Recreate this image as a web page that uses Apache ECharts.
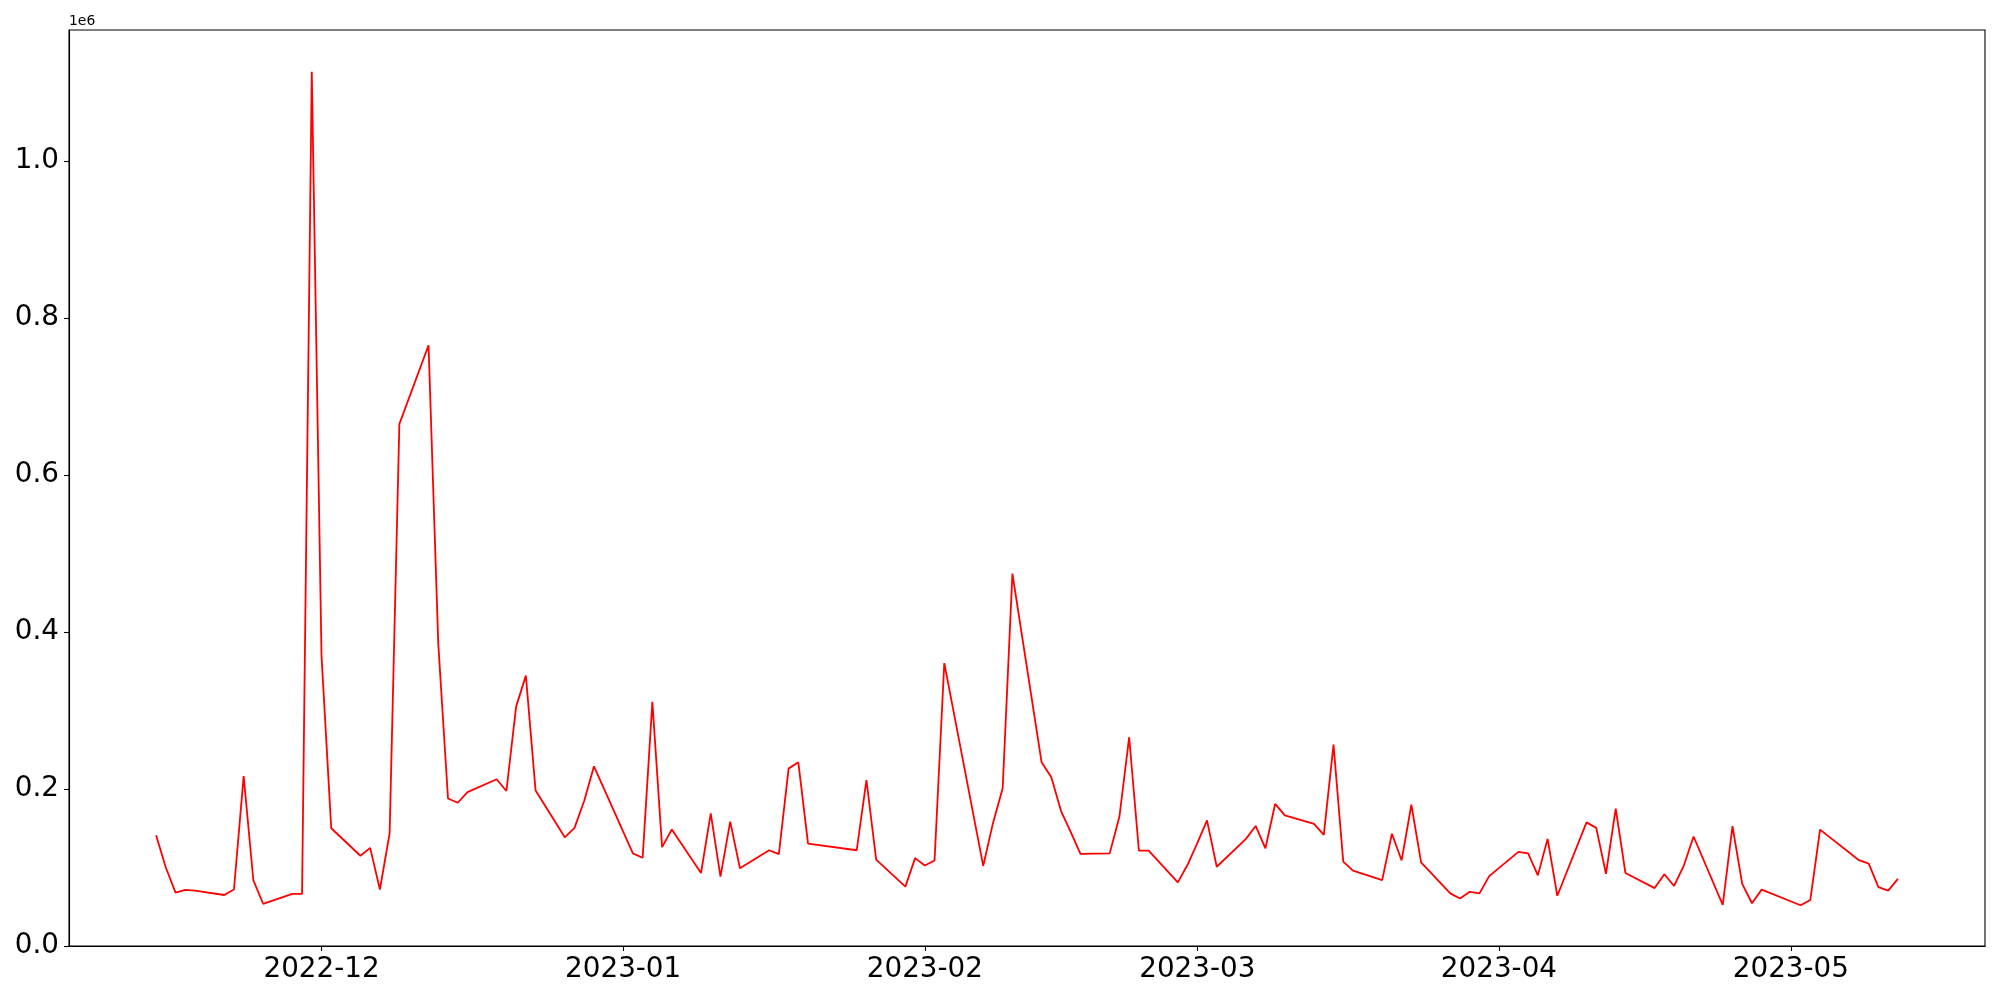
<!DOCTYPE html>
<html>
<head>
<meta charset="utf-8">
<script src="https://cdn.jsdelivr.net/npm/echarts@6/dist/echarts.min.js"></script>
<style>
  html, body { margin: 0; padding: 0; background: #fff; }
  #chart { width: 2000px; height: 1000px; }
</style>
</head>
<body>
<div id="chart"></div>
<script>
  // daily values
  const dates = [
    '2022-11-14', '2022-11-15', '2022-11-16', '2022-11-17', '2022-11-18',
    '2022-11-21', '2022-11-22', '2022-11-23', '2022-11-24', '2022-11-25',
    '2022-11-28', '2022-11-29', '2022-11-30', '2022-12-01', '2022-12-02',
    '2022-12-05', '2022-12-06', '2022-12-07', '2022-12-08', '2022-12-09',
    '2022-12-12', '2022-12-13', '2022-12-14', '2022-12-15', '2022-12-16',
    '2022-12-19', '2022-12-20', '2022-12-21', '2022-12-22', '2022-12-23',
    '2022-12-26', '2022-12-27', '2022-12-28', '2022-12-29',
    '2023-01-02', '2023-01-03', '2023-01-04', '2023-01-05', '2023-01-06',
    '2023-01-09', '2023-01-10', '2023-01-11', '2023-01-12', '2023-01-13',
    '2023-01-16', '2023-01-17', '2023-01-18', '2023-01-19', '2023-01-20',
    '2023-01-25', '2023-01-26', '2023-01-27',
    '2023-01-30', '2023-01-31', '2023-02-01', '2023-02-02', '2023-02-03',
    '2023-02-07', '2023-02-08', '2023-02-09', '2023-02-10',
    '2023-02-13', '2023-02-14', '2023-02-15', '2023-02-16', '2023-02-17',
    '2023-02-20', '2023-02-21', '2023-02-22', '2023-02-23', '2023-02-24',
    '2023-02-27', '2023-02-28', '2023-03-01', '2023-03-02', '2023-03-03',
    '2023-03-06', '2023-03-07', '2023-03-08', '2023-03-09', '2023-03-10',
    '2023-03-13', '2023-03-14', '2023-03-15', '2023-03-16', '2023-03-17',
    '2023-03-20', '2023-03-21', '2023-03-22', '2023-03-23', '2023-03-24',
    '2023-03-27', '2023-03-28', '2023-03-29', '2023-03-30', '2023-03-31',
    '2023-04-03', '2023-04-04', '2023-04-05', '2023-04-06', '2023-04-07',
    '2023-04-10', '2023-04-11', '2023-04-12', '2023-04-13', '2023-04-14',
    '2023-04-17', '2023-04-18', '2023-04-19', '2023-04-20', '2023-04-21',
    '2023-04-24', '2023-04-25', '2023-04-26', '2023-04-27', '2023-04-28',
    '2023-05-02', '2023-05-03', '2023-05-04',
    '2023-05-08', '2023-05-09', '2023-05-10', '2023-05-11', '2023-05-12'
  ];

  const values = [
    141000, 100000, 68000, 71500, 70500,
    65000, 72000, 216500, 83500, 53800,
    66500, 66500, 1114000, 370000, 150000,
    115000, 125000, 72000, 143500, 665000,
    765500, 385000, 188000, 182500, 196000,
    212500, 197500, 305000, 344500, 198000,
    138500, 150500, 185000, 229000,
    118000, 112500, 311000, 126000, 148500,
    93000, 169000, 88500, 158500, 99000,
    122000, 117000, 226000, 234000, 130500,
    122000, 211500, 110000,
    75700, 112000, 102500, 109000, 360500,
    102000, 156500, 201000, 474500,
    234000, 215000, 172000, 145000, 117500,
    118000, 165000, 266000, 121500, 121500,
    81000, 103500, 131000, 160000, 101000,
    136500, 153000, 124500, 181000, 166500,
    155500, 141500, 256500, 107500, 96000,
    84000, 143000, 109000, 180000, 106500,
    67000, 60500, 69000, 67000, 89000,
    120000, 118000, 90000, 136500, 64000,
    157500, 150500, 92000, 175000, 93000,
    73800, 91400, 76500, 102500, 139500,
    52300, 152600, 79100, 54500, 71800,
    51900, 58700, 148300,
    109300, 105000, 74900, 70600, 85500
  ];

  const monthTicks = ['2022-12-01', '2023-01-01', '2023-02-01', '2023-03-01', '2023-04-01', '2023-05-01'];
  const yTicks = [0, 200000, 400000, 600000, 800000, 1000000];

  const toTime = (s) => {
    const [y, m, d] = s.split('-').map(Number);
    return new Date(y, m - 1, d).getTime();
  };

  const times = dates.map(toTime);
  const seriesData = times.map((t, i) => [t, values[i]]);
  const xTicks = monthTicks.map(toTime);

  // matplotlib style 5% margins
  const tMin = times[0];
  const tMax = times[times.length - 1];
  const tPad = (tMax - tMin) * 0.05;
  const yMax = Math.max(...values);
  const yMin = Math.min(...values);
  const yTop = yMax + (yMax - yMin) * 0.05;

  const font = 'DejaVu Sans';

  const chart = echarts.init(document.getElementById('chart'), null, {
    width: 2000,
    height: 1000,
    renderer: 'canvas',
  });

  chart.setOption({
    animation: false,
    backgroundColor: '#ffffff',
    grid: {
      left: 69,
      right: 15,
      top: 30,
      bottom: 54,
      show: true,
      borderColor: '#000000',
      borderWidth: 1.1,
      backgroundColor: 'transparent',
    },
    xAxis: {
      type: 'value',
      min: tMin - tPad,
      max: tMax + tPad,
      scale: true,
      splitLine: { show: false },
      axisLine: { lineStyle: { color: '#000000', width: 1.1 } },
      axisTick: {
        show: true,
        length: 5,
        lineStyle: { color: '#000000', width: 1.1 },
        customValues: xTicks,
      },
      axisLabel: {
        margin: 10,
        color: '#000000',
        fontFamily: font,
        fontSize: 27.8,
        customValues: xTicks,
        formatter: (v) => {
          const d = new Date(v);
          const m = d.getMonth() + 1;
          return d.getFullYear() + '-' + (m < 10 ? '0' + m : m);
        },
      },
    },
    yAxis: {
      type: 'value',
      min: 0,
      max: yTop,
      interval: 200000,
      name: '1e6',
      nameLocation: 'end',
      nameGap: 2,
      nameTextStyle: {
        color: '#000000',
        fontFamily: font,
        fontSize: 13.9,
        align: 'left',
        verticalAlign: 'bottom',
      },
      splitLine: { show: false },
      axisLine: { show: true, lineStyle: { color: '#000000', width: 1.1 } },
      axisTick: {
        show: true,
        length: 5,
        lineStyle: { color: '#000000', width: 1.1 },
        customValues: yTicks,
      },
      axisLabel: {
        margin: 10,
        color: '#000000',
        fontFamily: font,
        fontSize: 27.8,
        customValues: yTicks,
        formatter: (v) => (v / 1e6).toFixed(1),
      },
    },
    series: [
      {
        type: 'line',
        data: seriesData,
        showSymbol: false,
        symbol: 'none',
        lineStyle: { color: '#ff0000', width: 1.8 },
        z: 3,
      },
    ],
  });
</script>
</body>
</html>
